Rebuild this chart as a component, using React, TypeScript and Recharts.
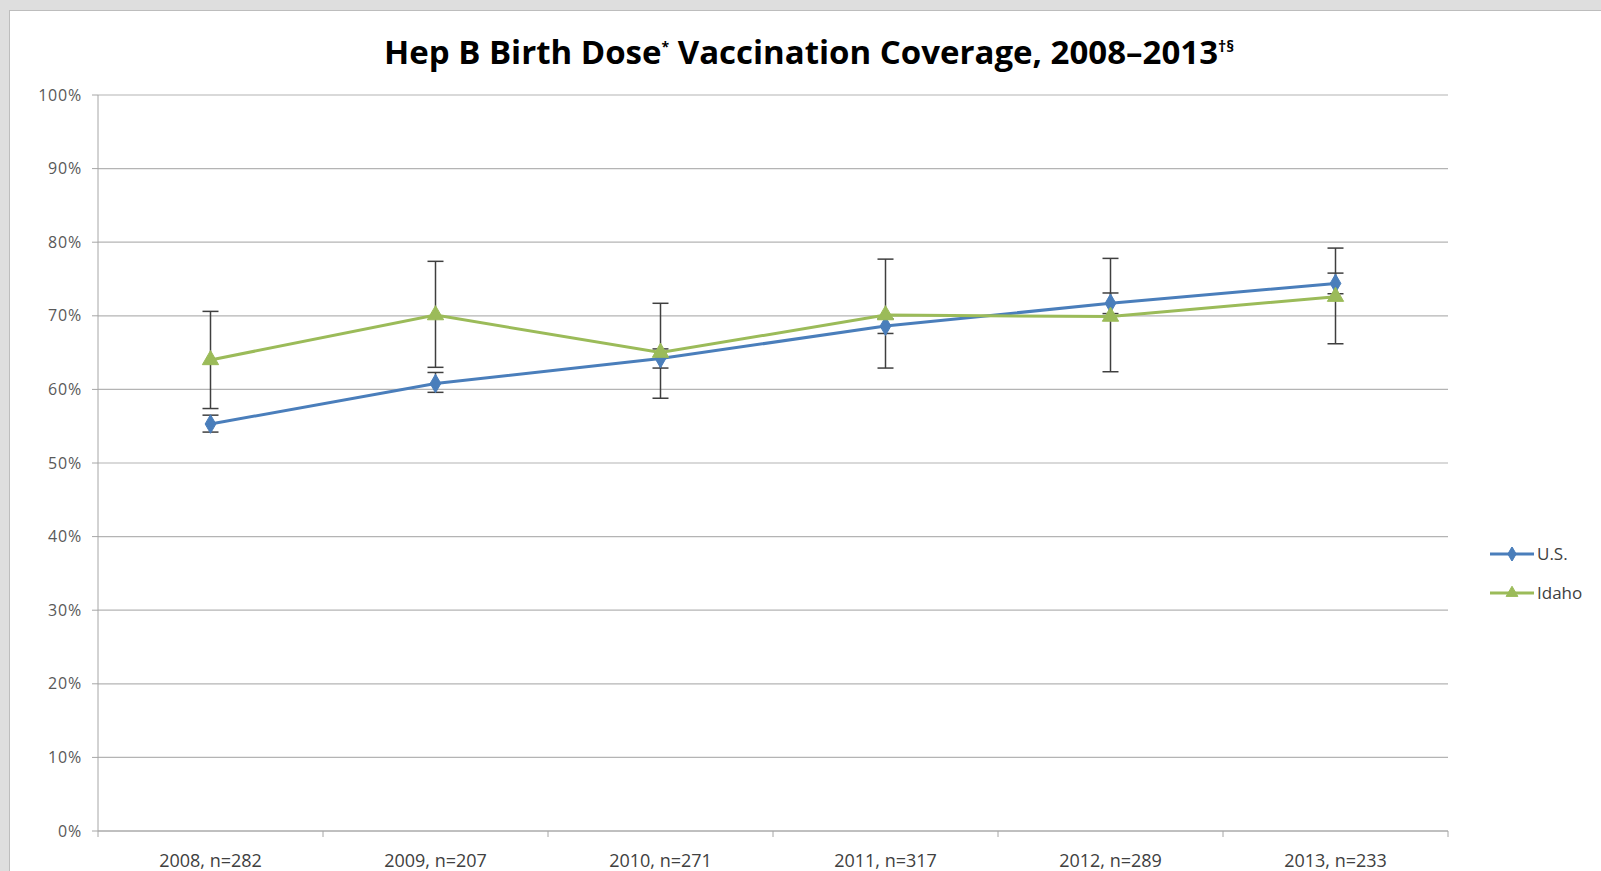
import { CartesianGrid, ErrorBar, Line, LineChart, Symbols, XAxis, YAxis } from "recharts";

const categories = ["2008, n=282", "2009, n=207", "2010, n=271", "2011, n=317", "2012, n=289", "2013, n=233"];

const usValues = [55.3, 60.8, 64.2, 68.6, 71.7, 74.4];
const usLow = [54.2, 59.6, 62.9, 67.6, 70.3, 73.0];
const usHigh = [56.5, 62.3, 65.5, 69.6, 73.1, 75.8];

const idahoValues = [64.0, 70.1, 65.0, 70.1, 69.9, 72.6];
const idahoLow = [57.4, 63.0, 58.8, 62.9, 62.4, 66.2];
const idahoHigh = [70.6, 77.4, 71.7, 77.7, 77.8, 79.2];

const yTicks = [0, 10, 20, 30, 40, 50, 60, 70, 80, 90, 100];

const seriesNames = ["U.S.", "Idaho"];

const BLUE = "#4a7ebb";
const GREEN = "#9bbb59";
const FONT = "'Open Sans', Lato, sans-serif";

const data = categories.map((c, i) => ({
  cat: c,
  us: usValues[i],
  usErr: [usValues[i] - usLow[i], usHigh[i] - usValues[i]],
  idaho: idahoValues[i],
  idahoErr: [idahoValues[i] - idahoLow[i], idahoHigh[i] - idahoValues[i]],
}));

const BAND = 225;

function XTick(props: any) {
  const { x, y, payload, index } = props;
  return (
    <g>
      <line x1={x - BAND / 2} x2={x - BAND / 2} y1={y} y2={y + 6} stroke="#a6a6a6" />
      {index === categories.length - 1 && (
        <line x1={x + BAND / 2} x2={x + BAND / 2} y1={y} y2={y + 6} stroke="#a6a6a6" />
      )}
      <text x={x} y={y + 36} textAnchor="middle" fontSize={18} fill="#404040" fontFamily={FONT}>
        {payload.value}
      </text>
    </g>
  );
}

const diamondDot = (props: any) => (
  <Symbols key={`us-${props.index}`} cx={props.cx} cy={props.cy} type="diamond" size={100} fill={BLUE} stroke={BLUE} />
);

const triangleDot = (props: any) => (
  <Symbols key={`id-${props.index}`} cx={props.cx} cy={props.cy} type="triangle" size={115} fill={GREEN} stroke={GREEN} />
);

function LegendBox() {
  const colors = [BLUE, GREEN];
  const shapes = ["diamond", "triangle"] as const;
  return (
    <div style={{ position: "absolute", left: 1490, top: 534, fontFamily: FONT, fontSize: 17, color: "#404040" }}>
      {seriesNames.map((name, i) => (
        <div key={name} style={{ display: "flex", alignItems: "center", height: 39 }}>
          <svg width={47} height={14}>
            <line x1={0} x2={44} y1={7} y2={7} stroke={colors[i]} strokeWidth={3} />
            <Symbols cx={22} cy={7} type={shapes[i]} size={60} fill={colors[i]} stroke={colors[i]} />
          </svg>
          <span>{name}</span>
        </div>
      ))}
    </div>
  );
}

export default function App() {
  return (
    <div style={{ position: "fixed", left: 0, top: 0, width: 1601, height: 871, background: "#dedede", overflow: "hidden" }}>
      <div
        style={{
          position: "absolute",
          left: 9,
          top: 10,
          width: 1601,
          height: 871,
          background: "#ffffff",
          borderLeft: "1px solid #bdbdbd",
          borderTop: "1px solid #bdbdbd",
        }}
      />
      <div
        style={{
          position: "absolute",
          left: 0,
          width: 1618,
          top: 26,
          textAlign: "center",
          fontFamily: FONT,
          fontWeight: 700,
          fontSize: 33,
          lineHeight: "40px",
          color: "#000",
          whiteSpace: "nowrap",
        }}
      >
        Hep B Birth Dose<sup style={{ fontSize: 14 }}>*</sup> Vaccination Coverage, 2008–2013
        <sup style={{ fontSize: 16 }}>†§</sup>
      </div>
      <div style={{ position: "absolute", left: 0, top: 0 }}>
        <LineChart width={1601} height={871} data={data} margin={{ top: 95, right: 153, bottom: 0, left: 8 }}>
          <CartesianGrid vertical={false} stroke="#b4b4b4" strokeWidth={1.2} />
          <XAxis
            dataKey="cat"
            padding={{ left: BAND / 2, right: BAND / 2 }}
            axisLine={{ stroke: "#a6a6a6" }}
            tickLine={false}
            tickSize={0}
            tickMargin={0}
            tick={<XTick />}
            interval={0}
            height={40}
          />
          <YAxis
            width={90}
            domain={[0, 100]}
            ticks={yTicks}
            tickFormatter={(v: number) => `${v}%`}
            axisLine={{ stroke: "#a6a6a6" }}
            tickLine={{ stroke: "#a6a6a6" }}
            tickSize={6}
            tickMargin={10}
            tick={{ fontSize: 16, fill: "#595959", fontFamily: FONT, letterSpacing: 0.8 }}
          />
          <Line
            type="linear"
            dataKey="us"
            name="U.S."
            stroke={BLUE}
            strokeWidth={3}
            dot={diamondDot}
            activeDot={false}
            isAnimationActive={false}
          >
            <ErrorBar dataKey="usErr" direction="y" width={8} stroke="#3f3f3f" strokeWidth={1.5} />
          </Line>
          <Line
            type="linear"
            dataKey="idaho"
            name="Idaho"
            stroke={GREEN}
            strokeWidth={3}
            dot={triangleDot}
            activeDot={false}
            isAnimationActive={false}
          >
            <ErrorBar dataKey="idahoErr" direction="y" width={8} stroke="#3f3f3f" strokeWidth={1.5} />
          </Line>
        </LineChart>
      </div>
      <LegendBox />
    </div>
  );
}
